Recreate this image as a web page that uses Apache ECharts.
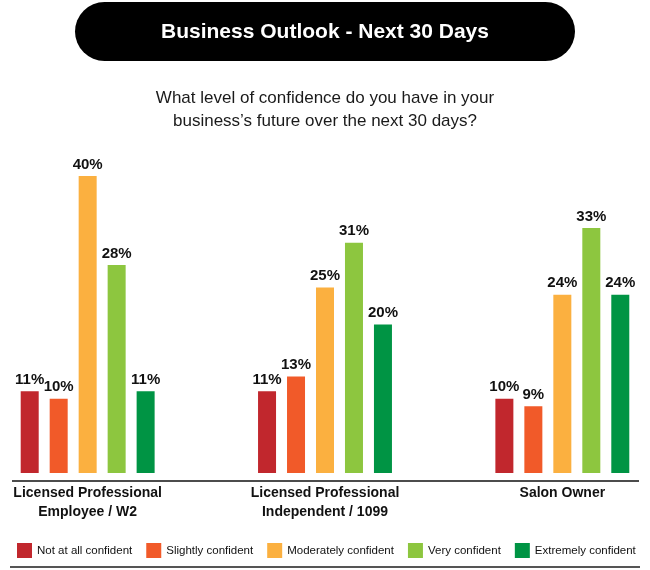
<!DOCTYPE html>
<html>
<head>
<meta charset="utf-8">
<script src="https://cdn.jsdelivr.net/npm/echarts@6/dist/echarts.min.js"></script>
<style>
  html, body { margin: 0; padding: 0; background: #fff; }
  #chart { width: 650px; height: 570px; }
</style>
</head>
<body>
<div id="chart"></div>
<script>
// respondent groups along the x axis
const groups = ['Licensed Professional\nEmployee / W2', 'Licensed Professional\nIndependent / 1099', 'Salon Owner']

// answer options, one series each
const answers = ['Not at all confident', 'Slightly confident', 'Moderately confident', 'Very confident', 'Extremely confident']
const answerColors = ['#C1272D', '#F15A29', '#FBB040', '#8DC63F', '#009444']

// percent per group, one array per answer
const notAtAll = [11, 11, 10]
const slightly = [10, 13, 9]
const moderately = [40, 25, 24]
const very = [28, 31, 33]
const extremely = [11, 20, 24]

const seriesValues = [notAtAll, slightly, moderately, very, extremely]

const chart = echarts.init(document.getElementById('chart'))

const option = {
  animation: false,
  backgroundColor: '#fff',
  textStyle: { fontFamily: 'Liberation Sans, Arial, sans-serif' },
  graphic: [
    {
      type: 'rect',
      shape: { x: 75, y: 2, width: 500, height: 59, r: 29.5 },
      style: { fill: '#000' }
    },
    {
      type: 'text',
      x: 325,
      y: 32,
      style: {
        text: 'Business Outlook - Next 30 Days',
        fill: '#fff',
        font: 'bold 21px "Liberation Sans"',
        textAlign: 'center',
        textVerticalAlign: 'middle'
      }
    },
    {
      type: 'text',
      x: 325,
      y: 110,
      style: {
        text: 'What level of confidence do you have in your\nbusiness\u2019s future over the next 30 days?',
        fill: '#1a1a1a',
        font: '17px "Liberation Sans"',
        lineHeight: 23,
        textAlign: 'center',
        textVerticalAlign: 'middle'
      }
    },
    {
      type: 'line',
      shape: { x1: 12, y1: 481, x2: 639, y2: 481 },
      style: { stroke: '#111', lineWidth: 1.5 }
    },
    {
      type: 'line',
      shape: { x1: 10, y1: 567, x2: 640, y2: 567 },
      style: { stroke: '#555', lineWidth: 2 }
    }
  ],
  legend: {
    data: answers,
    left: 12,
    top: 538,
    itemWidth: 15,
    itemHeight: 15,
    itemGap: 14,
    icon: 'rect',
    textStyle: { fontSize: 11.5, color: '#111', fontFamily: 'Liberation Sans' }
  },
  grid: { left: -31, right: -31, top: 176, bottom: 97, outerBoundsMode: 'none', containLabel: false },
  xAxis: {
    type: 'category',
    data: groups,
    axisLine: { show: false },
    axisTick: { show: false },
    axisLabel: {
      margin: 11,
      fontSize: 14,
      fontWeight: 'bold',
      lineHeight: 19,
      color: '#111',
      interval: 0
    }
  },
  yAxis: {
    type: 'value',
    min: 0,
    max: 40,
    show: false
  },
  series: answers.map((name, i) => ({
    name: name,
    type: 'bar',
    data: seriesValues[i],
    barWidth: 18,
    barGap: '61%',
    itemStyle: { color: answerColors[i] },
    label: {
      show: true,
      position: 'top',
      distance: 4,
      formatter: '{c}%',
      fontSize: 15,
      fontWeight: 'bold',
      color: '#111'
    }
  }))
}

chart.setOption(option)
</script>
</body>
</html>
